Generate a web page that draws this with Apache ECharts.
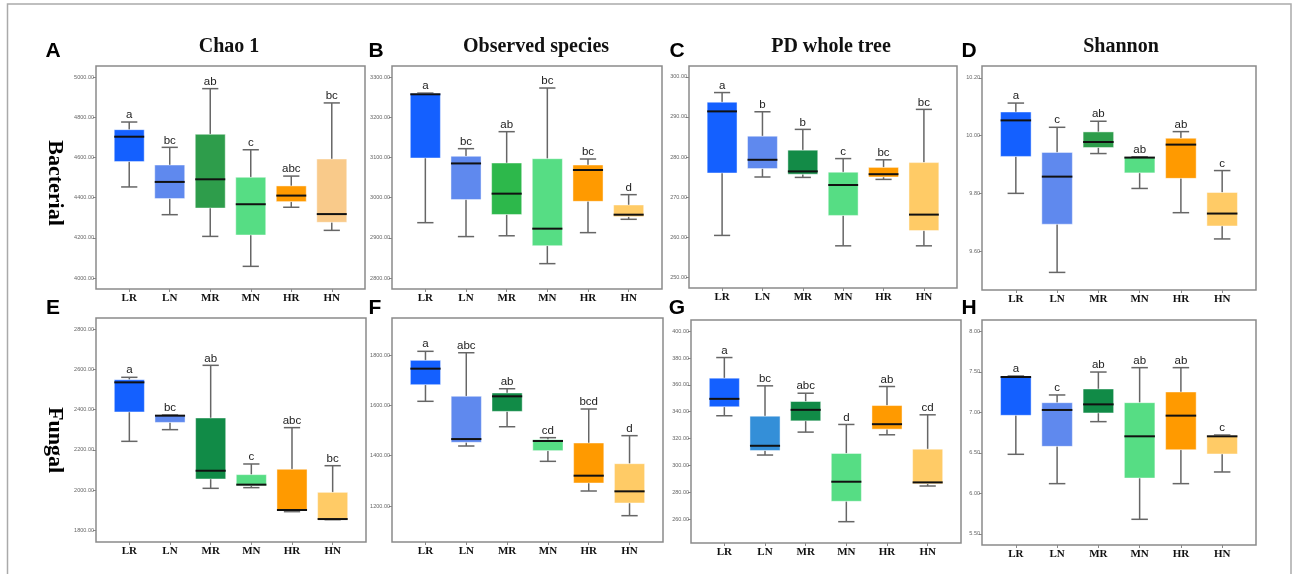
<!DOCTYPE html>
<html>
<head>
<meta charset="utf-8">
<script src="https://cdn.jsdelivr.net/npm/echarts@6/dist/echarts.min.js"></script>
<style>
html,body{margin:0;padding:0;background:#fff;}
#chart{width:1293px;height:574px;}
</style>
</head>
<body>
<div id="chart"></div>
<script>
// ---------- DATA ----------
const categories = ['LR', 'LN', 'MR', 'MN', 'HR', 'HN'];

// each entry: [min, q1, median, q3, max]
const bactChao1 = [[4453,4579,4703,4738,4776],[4315,4395,4478,4562,4650],[4207,4348,4491,4715,4942],[4058,4214,4367,4501,4638],[4352,4380,4410,4458,4507],[4237,4277,4318,4592,4871]];
const bactObserved = [[2937.6,3098.5,3257,3259,3260],[2903,2995,3085,3102.7,3121.7],[2905,2958,3009.8,3086,3164],[2835.7,2880.4,2922.7,3096.8,3272.6],[2912.8,2990.7,3068.7,3081,3096],[2946,2952.6,2957.5,2981.6,3007.3]];
const bactPD = [[260.4,276,291.4,293.7,296.1],[275,277.1,279.3,285.2,291.3],[274.9,275.7,276.4,281.7,286.9],[257.8,265.4,273,276.2,279.6],[274.4,275.0,275.7,277.4,279.3],[257.8,261.6,265.6,278.6,291.9]];
const bactShannon = [[9.80,9.928,10.053,10.082,10.113],[9.526,9.693,9.858,9.942,10.029],[9.938,9.959,9.978,10.013,10.05],[9.817,9.871,9.924,9.925,9.927],[9.733,9.852,9.969,9.991,10.014],[9.642,9.687,9.730,9.803,9.879]];
const fungChao1 = [[2242,2388,2535,2548,2560],[2300,2336,2369.5,2371,2373],[2008.6,2055,2096,2358,2619.5],[2012,2022,2026.8,2076.5,2129.5],[1892.7,1897.7,1901,2103,2310],[1853,1854.6,1856,1988.7,2121]];
const fungObserved = [[1616,1682,1745.7,1778.8,1814.6],[1438.4,1453,1466,1635.8,1809],[1515,1576,1635.8,1649,1666],[1377.5,1420,1458.3,1463.6,1471.5],[1259.6,1291.4,1320.5,1450.3,1585.4],[1161.6,1212,1258.3,1368.2,1479.5]];
const fungPD = [[337,343.7,349.6,365,380.4],[307.7,311.1,314.6,336.7,359.3],[324.8,333.2,341.4,347.6,353.8],[258,273.2,287.8,308.9,330.5],[322.8,327,330.7,344.6,358.8],[284.6,286.3,287.3,312.1,337.7]];
const fungShannon = [[6.483,6.964,7.437,7.441,7.449],[6.121,6.581,7.03,7.12,7.215],[6.886,6.993,7.099,7.289,7.498],[5.681,6.19,6.705,7.12,7.552],[6.121,6.54,6.96,7.252,7.552],[6.265,6.487,6.705,6.713,6.721]];

// significance letters
const bactChao1Letters = ['a','bc','ab','c','abc','bc'];
const bactObservedLetters = ['a','bc','ab','bc','bc','d'];
const bactPDLetters = ['a','b','b','c','bc','bc'];
const bactShannonLetters = ['a','c','ab','ab','ab','c'];
const fungChao1Letters = ['a','bc','ab','c','abc','bc'];
const fungObservedLetters = ['a','abc','ab','cd','bcd','d'];
const fungPDLetters = ['a','bc','abc','d','ab','cd'];
const fungShannonLetters = ['a','c','ab','ab','ab','c'];

// y tick labels
const ticksA = [4000,4200,4400,4600,4800,5000];
const ticksB = [2800,2900,3000,3100,3200,3300];
const ticksC = [250,260,270,280,290,300];
const ticksD = [9.6,9.8,10.0,10.2];
const ticksE = [1800,2000,2200,2400,2600,2800];
const ticksF = [1200,1400,1600,1800];
const ticksG = [260,280,300,320,340,360,380,400];
const ticksH = [5.5,6.0,6.5,7.0,7.5,8.0];

const titles = ['Chao 1', 'Observed species', 'PD whole tree', 'Shannon'];
const rowLabels = ['Bacterial', 'Fungal'];
const panelLetters = ['A','B','C','D','E','F','G','H'];

// ---------- STYLE / LAYOUT ----------
const C_LR = '#1460ff', C_LN = '#5f89ee', C_MN = '#56dd84', C_HR = '#ff9a00', C_HN = '#ffcb66';
const panels = [
  {stats: bactChao1, letters: bactChao1Letters, ticks: ticksA, min: 3945.3, max: 5054.7, grid: [96, 66, 269, 223], colors: [C_LR, C_LN, '#2e9d4b', C_MN, C_HR, '#f9ca8a']},
  {stats: bactObserved, letters: bactObservedLetters, ticks: ticksB, min: 2772.6, max: 3327.4, grid: [392, 66, 270, 223], colors: [C_LR, C_LN, '#2db84b', C_MN, C_HR, C_HN]},
  {stats: bactPD, letters: bactPDLetters, ticks: ticksC, min: 247.26, max: 302.74, grid: [689, 66, 268, 222], colors: [C_LR, C_LN, '#138b47', C_MN, C_HR, C_HN]},
  {stats: bactShannon, letters: bactShannonLetters, ticks: ticksD, min: 9.465, max: 10.2415, grid: [982, 66, 274, 224], colors: [C_LR, C_LN, '#2e9d4b', C_MN, C_HR, C_HN]},
  {stats: fungChao1, letters: fungChao1Letters, ticks: ticksE, min: 1742, max: 2854.6, grid: [96, 318, 270, 224], colors: [C_LR, C_LN, '#118b47', C_MN, C_HR, C_HN]},
  {stats: fungObserved, letters: fungObservedLetters, ticks: ticksF, min: 1057, max: 1947, grid: [392, 318, 271, 224], colors: [C_LR, C_LN, '#118b47', C_MN, C_HR, C_HN]},
  {stats: fungPD, letters: fungPDLetters, ticks: ticksG, min: 242.1, max: 408.4, grid: [691, 320, 270, 223], colors: [C_LR, '#348fd8', '#118b47', C_MN, C_HR, C_HN]},
  {stats: fungShannon, letters: fungShannonLetters, ticks: ticksH, min: 5.364, max: 8.14, grid: [982, 320, 274, 225], colors: [C_LR, C_LN, '#118b47', C_MN, C_HR, C_HN]}
];

const grids = [], xAxes = [], yAxes = [], series = [];
panels.forEach((p, i) => {
  grids.push({left: p.grid[0], top: p.grid[1], width: p.grid[2], height: p.grid[3], show: true,
    borderColor: '#8a8a8a', borderWidth: 1.5, backgroundColor: '#fff'});
  xAxes.push({type: 'value', gridIndex: i, min: -0.82, max: 5.82, position: 'bottom',
    axisLine: {show: false, onZero: false}, splitLine: {show: false},
    axisTick: {show: true, customValues: [0,1,2,3,4,5], length: 3, lineStyle: {color: '#888'}},
    axisLabel: {customValues: [0,1,2,3,4,5], formatter: v => categories[Math.round(v)] || '',
      fontFamily: '"Liberation Serif", serif', fontWeight: 'bold', fontSize: 11, color: '#111', margin: 4}});
  yAxes.push({type: 'value', gridIndex: i, min: p.min, max: p.max, position: 'left',
    axisLine: {show: false, onZero: false}, splitLine: {show: false},
    axisTick: {show: true, customValues: p.ticks, length: 3, lineStyle: {color: '#888'}},
    axisLabel: {customValues: p.ticks, formatter: v => Number(v).toFixed(2),
      fontFamily: '"Liberation Sans", sans-serif', fontSize: 5.5, color: '#666', margin: 2}});
  const data = p.stats.map((s, k) => [k].concat(s));
  series.push({
    type: 'custom', xAxisIndex: i, yAxisIndex: i, clip: false,
    encode: {x: 0, y: [1,2,3,4,5]},
    data: data,
    renderItem: (params, api) => {
      const k = params.dataIndex;
      const x = api.value(0);
      const lo = api.coord([x, api.value(1)]);
      const q1 = api.coord([x, api.value(2)]);
      const md = api.coord([x, api.value(3)]);
      const q3 = api.coord([x, api.value(4)]);
      const hi = api.coord([x, api.value(5)]);
      const unit = api.size([1, 0])[0];
      const bw = unit * 0.74, cw = unit * 0.4;
      const cx = lo[0];
      const wStyle = {stroke: '#666', lineWidth: 1.5};
      return {type: 'group', children: [
        {type: 'line', shape: {x1: cx, y1: q1[1], x2: cx, y2: lo[1]}, style: wStyle},
        {type: 'line', shape: {x1: cx, y1: q3[1], x2: cx, y2: hi[1]}, style: wStyle},
        {type: 'line', shape: {x1: cx - cw/2, y1: lo[1], x2: cx + cw/2, y2: lo[1]}, style: wStyle},
        {type: 'line', shape: {x1: cx - cw/2, y1: hi[1], x2: cx + cw/2, y2: hi[1]}, style: wStyle},
        {type: 'rect', shape: {x: cx - bw/2, y: q3[1], width: bw, height: q1[1] - q3[1]},
          style: {fill: p.colors[k], stroke: 'rgba(255,255,255,0.45)', lineWidth: 1}},
        {type: 'line', shape: {x1: cx - bw/2, y1: md[1], x2: cx + bw/2, y2: md[1]}, style: {stroke: '#111', lineWidth: 2}},
        {type: 'text', style: {text: p.letters[k], x: cx, y: hi[1] - 1, textAlign: 'center', textVerticalAlign: 'bottom',
          font: '11.5px "Liberation Sans", Arial, sans-serif', fill: '#222'}}
      ]};
    }
  });
});

const graphic = [
  {type: 'rect', shape: {x: 7.5, y: 4, width: 1283.5, height: 620}, style: {fill: 'none', stroke: '#aaa', lineWidth: 1.5}, z: -1}
];
const titleX = [229, 536, 831, 1121];
titles.forEach((t, i) => graphic.push({type: 'text', x: titleX[i], y: 47,
  style: {text: t, textAlign: 'center', textVerticalAlign: 'middle', font: 'bold 20px "Liberation Serif", serif', fill: '#111'}}));
const letterPos = [[53,51],[376,51],[677,51],[969,51],[53,308],[375,308],[677,308],[969,308]];
panelLetters.forEach((L, i) => graphic.push({type: 'text', x: letterPos[i][0], y: letterPos[i][1],
  style: {text: L, textAlign: 'center', textVerticalAlign: 'middle', font: 'bold 21px "Liberation Sans", Arial, sans-serif', fill: '#000'}}));
const rowPos = [[55,183],[55,440]];
rowLabels.forEach((r, i) => graphic.push({type: 'text', x: rowPos[i][0], y: rowPos[i][1], rotation: -Math.PI/2,
  style: {text: r, textAlign: 'center', textVerticalAlign: 'middle', font: 'bold 22px "Liberation Serif", serif', fill: '#000'}}));

const chart = echarts.init(document.getElementById('chart'), null, {renderer: 'canvas'});
chart.setOption({
  animation: false,
  backgroundColor: '#fff',
  grid: grids, xAxis: xAxes, yAxis: yAxes, series: series, graphic: graphic
});
</script>
</body>
</html>
